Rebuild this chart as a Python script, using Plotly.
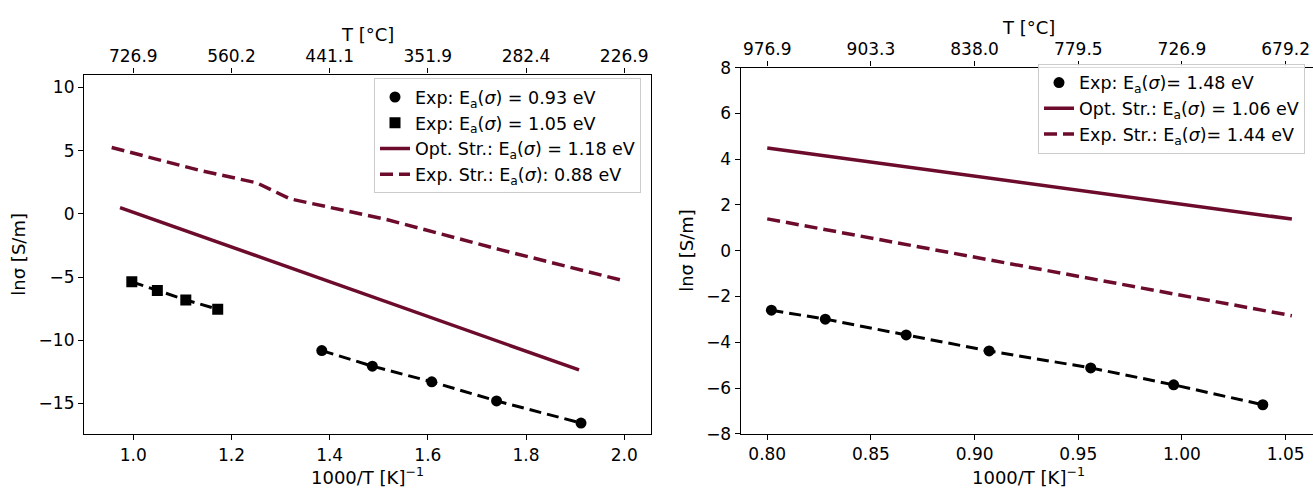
import plotly.graph_objects as go

# ---- data: ln(sigma) vs 1000/T ----
# left panel
left_circ_x = [1.384, 1.487, 1.608, 1.740, 1.912]
left_circ_y = [-10.82, -12.05, -13.29, -14.80, -16.55]
left_sq_x = [0.997, 1.049, 1.107, 1.172]
left_sq_y = [-5.38, -6.07, -6.81, -7.55]
left_opt_x = [0.973, 1.400, 1.627, 1.908]
left_opt_y = [0.50, -5.40, -8.50, -12.35]
left_exp_str_x = [0.956, 1.136, 1.251, 1.319, 1.516, 1.747, 2.000]
left_exp_str_y = [5.25, 3.43, 2.46, 1.19, -0.45, -2.83, -5.30]

# right panel
right_circ_x = [0.802, 0.828, 0.867, 0.907, 0.956, 0.996, 1.039]
right_circ_y = [-2.60, -2.99, -3.68, -4.38, -5.12, -5.86, -6.73]
right_opt_x = [0.800, 1.053]
right_opt_y = [4.49, 1.38]
right_exp_str_x = [0.800, 1.053]
right_exp_str_y = [1.39, -2.84]

# axis ticks (bottom: 1000/T, top: temperature in degC)
left_ticks = [1.0, 1.2, 1.4, 1.6, 1.8, 2.0]
left_top_labels = ["726.9", "560.2", "441.1", "351.9", "282.4", "226.9"]
right_ticks = [0.80, 0.85, 0.90, 0.95, 1.00, 1.05]
right_top_labels = ["976.9", "903.3", "838.0", "779.5", "726.9", "679.2"]

# legend labels
left_names = [
    "Exp: E<sub>a</sub>(<i>σ</i>) = 0.93 eV",
    "Exp: E<sub>a</sub>(<i>σ</i>) = 1.05 eV",
    "Opt. Str.: E<sub>a</sub>(<i>σ</i>) = 1.18 eV",
    "Exp. Str.: E<sub>a</sub>(<i>σ</i>): 0.88 eV",
]
right_names = [
    "Exp: E<sub>a</sub>(<i>σ</i>)= 1.48 eV",
    "Opt. Str.: E<sub>a</sub>(<i>σ</i>) = 1.06 eV",
    "Exp. Str.: E<sub>a</sub>(<i>σ</i>)= 1.44 eV",
]

MAROON = "#6c0b2b"
FONT = "DejaVu Sans"
FS_TICK = 17
FS_TITLE = 18
FS_LEG = 17.5
W, H = 1313, 494

fig = go.Figure()

# ---- left panel traces ----
fig.add_trace(go.Scatter(x=left_circ_x, y=left_circ_y, mode="lines",
                         line=dict(color="black", width=3, dash="12px,6px"),
                         showlegend=False, hoverinfo="skip", xaxis="x", yaxis="y"))
fig.add_trace(go.Scatter(x=left_sq_x, y=left_sq_y, mode="lines",
                         line=dict(color="black", width=3, dash="12px,6px"),
                         showlegend=False, hoverinfo="skip", xaxis="x", yaxis="y"))
fig.add_trace(go.Scatter(x=left_circ_x, y=left_circ_y, mode="markers", name=left_names[0],
                         marker=dict(symbol="circle", size=11, color="black"),
                         xaxis="x", yaxis="y", legend="legend"))
fig.add_trace(go.Scatter(x=left_sq_x, y=left_sq_y, mode="markers", name=left_names[1],
                         marker=dict(symbol="square", size=11, color="black"),
                         xaxis="x", yaxis="y", legend="legend"))
fig.add_trace(go.Scatter(x=left_opt_x, y=left_opt_y, mode="lines", name=left_names[2],
                         line=dict(color=MAROON, width=3.5),
                         xaxis="x", yaxis="y", legend="legend"))
fig.add_trace(go.Scatter(x=left_exp_str_x, y=left_exp_str_y, mode="lines", name=left_names[3],
                         line=dict(color=MAROON, width=3.5, dash="13px,6px"),
                         xaxis="x", yaxis="y", legend="legend"))
# carrier for the top temperature axis
fig.add_trace(go.Scatter(x=left_ticks, y=[None] * len(left_ticks), mode="markers",
                         showlegend=False, hoverinfo="skip", xaxis="x3", yaxis="y"))

# ---- right panel traces ----
fig.add_trace(go.Scatter(x=right_circ_x, y=right_circ_y, mode="lines",
                         line=dict(color="black", width=3, dash="12px,6px"),
                         showlegend=False, hoverinfo="skip", xaxis="x2", yaxis="y2"))
fig.add_trace(go.Scatter(x=right_circ_x, y=right_circ_y, mode="markers", name=right_names[0],
                         marker=dict(symbol="circle", size=11, color="black"),
                         xaxis="x2", yaxis="y2", legend="legend2"))
fig.add_trace(go.Scatter(x=right_opt_x, y=right_opt_y, mode="lines", name=right_names[1],
                         line=dict(color=MAROON, width=3.5),
                         xaxis="x2", yaxis="y2", legend="legend2"))
fig.add_trace(go.Scatter(x=right_exp_str_x, y=right_exp_str_y, mode="lines", name=right_names[2],
                         line=dict(color=MAROON, width=3.5, dash="13px,6px"),
                         xaxis="x2", yaxis="y2", legend="legend2"))
fig.add_trace(go.Scatter(x=right_ticks, y=[None] * len(right_ticks), mode="markers",
                         showlegend=False, hoverinfo="skip", xaxis="x4", yaxis="y2"))

# ---- axes ----
def px_x(p):
    return p / W


def px_y(p):
    return 1 - p / H


axis_common = dict(showline=True, linecolor="black", linewidth=1.2, ticks="outside",
                   ticklen=5, tickwidth=1.2, tickcolor="black", showgrid=False,
                   zeroline=False, tickfont=dict(family=FONT, size=FS_TICK, color="black"))

L_DOM_X = [px_x(84), px_x(650.7)]
L_DOM_Y = [px_y(442.3), px_y(67.3)]
R_DOM_X = [px_x(740.7), 1.0]
R_DOM_Y = [px_y(441.7), px_y(60)]
L_XR = [0.8996, 2.054]
R_XR = [0.7872, 1.0632]

fig.update_layout(
    xaxis=dict(domain=L_DOM_X, range=L_XR, anchor="y", tickvals=left_ticks,
               tickformat=".1f", mirror=True, **axis_common),
    yaxis=dict(domain=L_DOM_Y, range=[-17.45, 11.02], anchor="x", dtick=5,
               mirror=True, **axis_common),
    xaxis3=dict(overlaying="x", side="top", anchor="y", range=L_XR,
                tickvals=left_ticks, ticktext=left_top_labels, **axis_common),
    xaxis2=dict(domain=R_DOM_X, range=R_XR, anchor="y2", tickvals=right_ticks,
                tickformat=".2f", **axis_common),
    yaxis2=dict(domain=R_DOM_Y, range=[-8, 8], anchor="x2", dtick=2, **axis_common),
    xaxis4=dict(overlaying="x2", side="top", anchor="y2", range=R_XR,
                tickvals=right_ticks, ticktext=right_top_labels, **axis_common),
)

legend_common = dict(font=dict(family=FONT, size=FS_LEG, color="black"),
                     bgcolor="rgba(255,255,255,0.85)", bordercolor="#cccccc",
                     borderwidth=1, xanchor="right", yanchor="top",
                     itemwidth=30, tracegroupgap=0)
fig.update_layout(
    legend=dict(x=px_x(641), y=px_y(71), **legend_common),
    legend2=dict(x=px_x(1305), y=px_y(56), **legend_common),
)

# ---- axis titles ----
title_font = dict(family=FONT, size=FS_TITLE, color="black")
annos = [
    dict(text="1000/T [K]<sup>−1</sup>", x=px_x(367), y=px_y(486)),
    dict(text="1000/T [K]<sup>−1</sup>", x=px_x(1028), y=px_y(486)),
    dict(text="T [°C]", x=px_x(367), y=px_y(26)),
    dict(text="T [°C]", x=px_x(1028), y=px_y(18)),
    dict(text="lnσ [S/m]", x=px_x(19), y=px_y(255), textangle=-90),
    dict(text="lnσ [S/m]", x=px_x(687), y=px_y(251), textangle=-90),
]
for a in annos:
    fig.add_annotation(xref="paper", yref="paper", showarrow=False,
                       xanchor="center", yanchor="middle", font=title_font, **a)

fig.update_layout(
    width=W, height=H,
    margin=dict(l=0, r=0, t=0, b=0),
    paper_bgcolor="white", plot_bgcolor="white",
    font=dict(family=FONT, size=FS_TICK, color="black"),
)

fig.write_html("out.html")
